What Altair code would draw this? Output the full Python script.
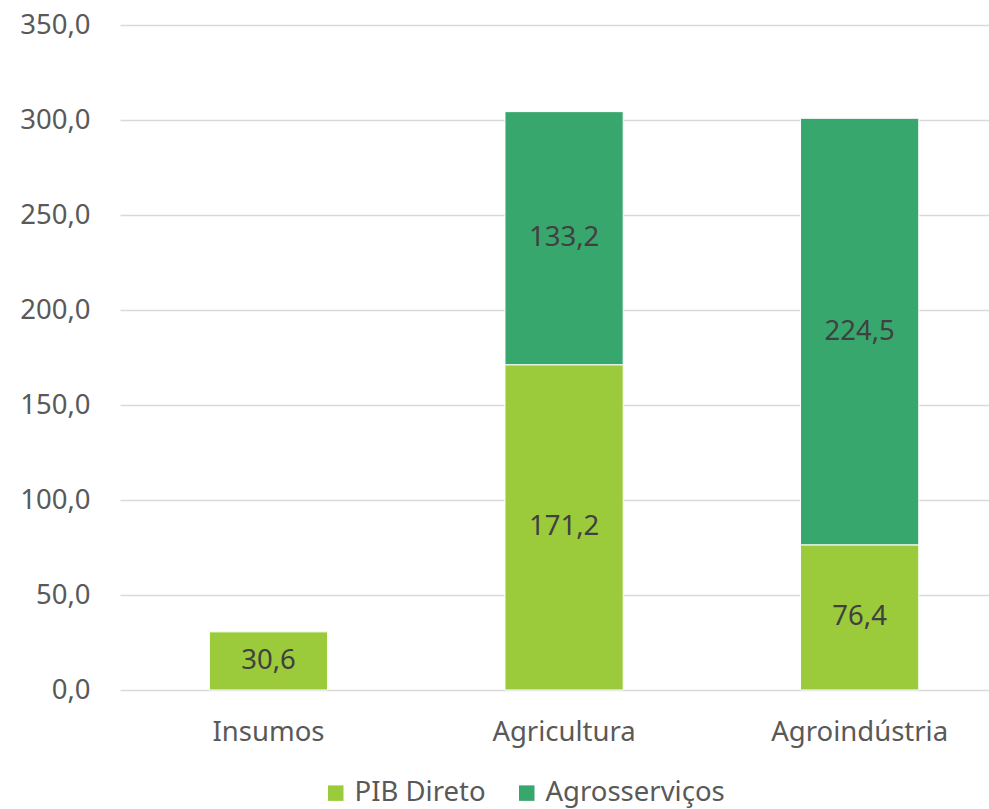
import altair as alt
import pandas as pd

# Sector values (R$ bilhões) split into direct GDP and agro-services
categories = ["Insumos", "Agricultura", "Agroindústria"]
pib_direto = [30.6, 171.2, 76.4]
agrosservicos = [None, 133.2, 224.5]
series_names = ["PIB Direto", "Agrosserviços"]
series_colors = ["#9BCB3B", "#38A76E"]
y_ticks = [0, 50, 100, 150, 200, 250, 300, 350]

rows = []
for cat, a, b in zip(categories, pib_direto, agrosservicos):
    for order, (name, val) in enumerate(zip(series_names, [a, b])):
        if val is not None:
            rows.append({"cat": cat, "serie": name, "ord": order, "value": val})
df = pd.DataFrame(rows)

FONT = "Noto Sans"
FS = 27.5

base = alt.Chart(df).transform_stack(
    stack="value", as_=["y0", "y1"], groupby=["cat"],
    sort=[alt.SortField("ord", order="ascending")],
).transform_calculate(
    mid="(datum.y0 + datum.y1) / 2",
    label="replace(format(datum.value, '.1f'), '.', ',')",
)

x_enc = alt.X(
    "cat:N", sort=categories, title=None,
    scale=alt.Scale(paddingInner=0.6, paddingOuter=0.27, align=0.56),
    axis=alt.Axis(
        labelAngle=0, domain=False, ticks=False, tickSize=0, grid=False,
        labelPadding=50, labelBaseline="alphabetic", labelLimit=400,
        labelFont=FONT, labelFontSize=FS, labelColor="#595959",
    ),
)
y_scale = alt.Scale(domain=[0, 350], nice=False)

bars = base.mark_bar(stroke="white", strokeWidth=1).encode(
    x=x_enc,
    y=alt.Y(
        "y0:Q", scale=y_scale, title=None,
        axis=alt.Axis(
            values=y_ticks, domain=False, ticks=False, tickSize=0,
            labelPadding=30, labelFont=FONT, labelFontSize=FS, labelColor="#595959",
            gridColor="#D9D9D9", gridWidth=1.4,
            labelExpr="replace(format(datum.value, '.1f'), '.', ',')",
        ),
    ),
    y2="y1:Q",
    color=alt.Color(
        "serie:N",
        scale=alt.Scale(domain=series_names, range=series_colors),
        legend=alt.Legend(
            title=None, orient="none", direction="horizontal",
            legendX=202, legendY=754, padding=0,
            symbolType="square", symbolSize=240, symbolStrokeWidth=0,
            labelFont=FONT, labelFontSize=FS, labelColor="#595959",
            labelOffset=5, columnPadding=27, labelLimit=400,
        ),
    ),
    order=alt.Order("ord:Q"),
)

labels = base.mark_text(
    font=FONT, fontSize=FS, color="#404040", baseline="middle", align="center",
).encode(
    x=alt.X("cat:N", sort=categories),
    y=alt.Y("mid:Q", scale=y_scale),
    text="label:N",
)

chart = alt.layer(bars, labels).properties(
    width=869, height=665,
    background="white",
    autosize=alt.AutoSizeParams(type="none"),
    padding={"left": 120, "top": 25, "right": 0, "bottom": 119},
).configure_view(stroke=None)

chart.save("out.html", embed_options={"renderer": "svg", "actions": False})
